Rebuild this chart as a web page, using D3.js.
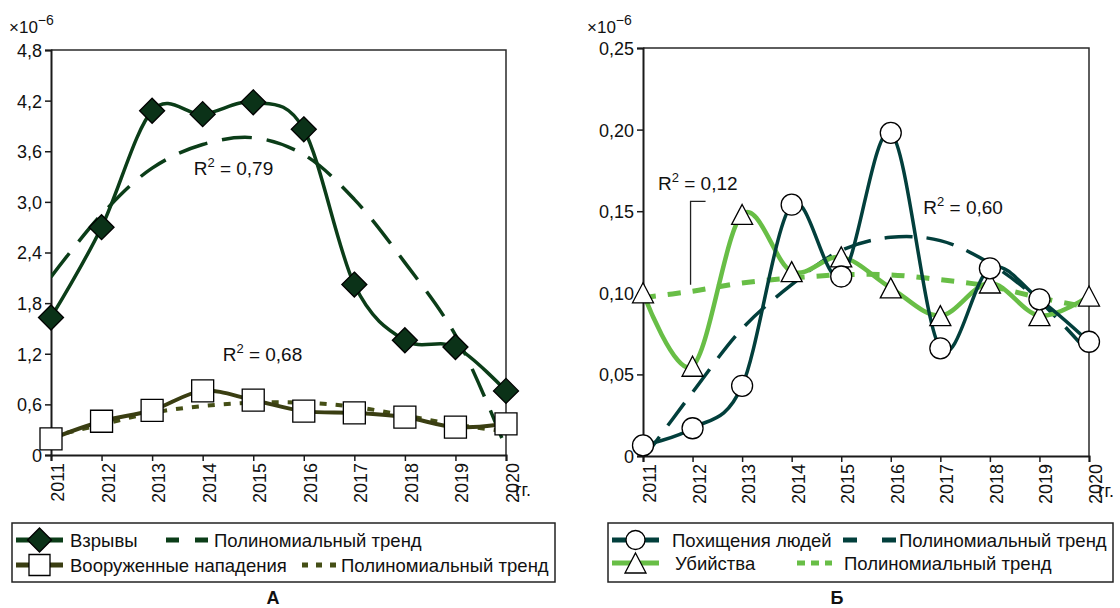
<!DOCTYPE html>
<html>
<head>
<meta charset="utf-8">
<script src="https://cdn.jsdelivr.net/npm/d3@7"></script>
<style>
  body { margin: 0; background: #fff; }
  svg { display: block; }
  text { font-family: "Liberation Sans", Arial, sans-serif; fill: #111; }
</style>
</head>
<body>
<svg id="chart" width="1120" height="608"></svg>
<script>
// ---- data (×10^-6) ----
const years = [2011, 2012, 2013, 2014, 2015, 2016, 2017, 2018, 2019, 2020];

// Panel А
const explosions      = [1.63, 2.70, 4.08, 4.04, 4.18, 3.86, 2.02, 1.36, 1.28, 0.76];
const explosionsTrend = [2.11, 2.85, 3.40, 3.68, 3.76, 3.56, 3.03, 2.28, 1.42, 0.08];
const armedAttacks    = [0.19, 0.40, 0.53, 0.76, 0.65, 0.52, 0.50, 0.45, 0.33, 0.37];
const armedTrend      = [0.22, 0.36, 0.50, 0.58, 0.62, 0.62, 0.57, 0.47, 0.36, 0.28];
const ticksA = [0, 0.6, 1.2, 1.8, 2.4, 3.0, 3.6, 4.2, 4.8];

// Panel Б
const kidnappings  = [0.0065, 0.017, 0.043, 0.154, 0.110, 0.198, 0.066, 0.115, 0.096, 0.070];
const kidnapTrend  = [-0.002, 0.039, 0.078, 0.105, 0.126, 0.134, 0.132, 0.118, 0.095, 0.063];
const murders      = [0.100, 0.055, 0.148, 0.113, 0.122, 0.103, 0.086, 0.106, 0.086, 0.098];
const murderTrend  = [0.097, 0.101, 0.106, 0.109, 0.111, 0.111, 0.108, 0.104, 0.097, 0.091];
const ticksB = [0, 0.05, 0.10, 0.15, 0.20, 0.25];

const trendLabel = "Полиномиальный тренд";

// ---- colours ----
const C = {
  expl: "#0b3d18", explFill: "#0b3218",
  armed: "#3a3e12", armedTrend: "#454f16",
  kid: "#023f3c",
  mur: "#68be46"
};

const svg = d3.select("#chart");
const smooth = d3.curveCardinal.tension(0);

// marker shapes, centred on 0,0
const shapes = {
  diamond: r => `M0,${-r}L${r},0L0,${r}L${-r},0Z`,
  square: r => `M${-r},${-r}H${r}V${r}H${-r}Z`,
  circle: r => d3.symbol(d3.symbolCircle, Math.PI * r * r)(),
  triangle: r => `M0,${-r}L${r * 1.05},${r}L${-r * 1.05},${r}Z`
};

function panel(cfg) {
  const g = svg.append("g");
  const x = d3.scalePoint().domain(years).range([cfg.left, cfg.right]);
  const y = d3.scaleLinear().domain(cfg.domain).range([cfg.bottom, cfg.top]);

  const clipId = "clip" + cfg.id;
  svg.append("clipPath").attr("id", clipId)
    .append("rect").attr("x", cfg.left).attr("y", cfg.top)
    .attr("width", cfg.right - cfg.left).attr("height", cfg.bottom - cfg.top);

  // frame
  g.append("path")
    .attr("d", `M${cfg.left},${cfg.top}H${cfg.right}V${cfg.bottom}`)
    .attr("fill", "none").attr("stroke", "#2a2a2a").attr("stroke-width", 1.5);

  // y axis
  const yAxis = d3.axisLeft(y).tickValues(cfg.ticks).tickSize(6).tickPadding(3)
    .tickFormat(cfg.fmt);
  const ya = g.append("g").attr("transform", `translate(${cfg.left},0)`).call(yAxis);
  ya.select(".domain").attr("stroke", "#1a1a1a").attr("stroke-width", 2);
  ya.selectAll(".tick line").attr("stroke", "#1a1a1a").attr("stroke-width", 1.5);
  ya.selectAll("text").style("font-size", "18px").attr("fill", "#111").attr("dy", "0.36em");

  // x axis
  const xAxis = d3.axisBottom(x).tickSize(6).tickPadding(0);
  const xa = g.append("g").attr("transform", `translate(0,${cfg.bottom})`).call(xAxis);
  xa.select(".domain").attr("stroke", "#1a1a1a").attr("stroke-width", 2);
  xa.selectAll(".tick line").attr("stroke", "#1a1a1a").attr("stroke-width", 1.5);
  xa.selectAll("text")
    .style("font-size", "18px").attr("fill", "#111")
    .attr("text-anchor", "end").attr("dy", null)
    .attr("transform", "translate(6.5,8) rotate(-90)");
  g.append("text").attr("x", cfg.right + 9).attr("y", cfg.bottom + 41)
    .style("font-size", "18px").text("гг.");

  // multiplier
  const m = g.append("text").attr("x", cfg.multX).attr("y", 33).style("font-size", "17px");
  m.append("tspan").text("×10");
  m.append("tspan").attr("dy", -8).style("font-size", "14px").text("−6");

  const plot = g.append("g").attr("clip-path", `url(#${clipId})`);
  const marks = g.append("g");

  cfg.series.forEach(s => {
    const line = d3.line().x((d, i) => x(years[i])).y(d => y(d));
    if (s.trend) {
      plot.append("path").datum(s.trend)
        .attr("d", line.curve(d3.curveCatmullRom.alpha(0.5)))
        .attr("fill", "none").attr("stroke", s.trendColor)
        .attr("stroke-width", s.trendWidth).attr("stroke-dasharray", s.dash);
    }
  });
  cfg.series.forEach(s => {
    const line = d3.line().x((d, i) => x(years[i])).y(d => y(d)).curve(smooth);
    plot.append("path").datum(s.values).attr("d", line)
      .attr("fill", "none").attr("stroke", s.color).attr("stroke-width", s.width)
      .attr("stroke-linejoin", "round");
  });
  cfg.series.forEach(s => {
    marks.selectAll(null).data(s.values).join("path")
      .attr("transform", (d, i) => `translate(${x(years[i])},${y(d)})`)
      .attr("d", shapes[s.shape](s.r))
      .attr("fill", s.fill).attr("stroke", "#000").attr("stroke-width", 1.3);
  });

  return { g, x, y };
}

const fmtA = d => d === 0 ? "0" : d3.format(".1f")(d).replace(".", ",");
const fmtB = d => d === 0 ? "0" : d3.format(".2f")(d).replace(".", ",");

const A = panel({
  id: "A", left: 51, right: 506, top: 50, bottom: 455, domain: [0, 4.8],
  ticks: ticksA, fmt: fmtA, multX: 9,
  series: [
    { values: armedAttacks, color: C.armed, width: 4, shape: "square", r: 11, fill: "#fff",
      trend: armedTrend, trendColor: C.armedTrend, trendWidth: 4, dash: "7 9" },
    { values: explosions, color: C.expl, width: 3.5, shape: "diamond", r: 12.5, fill: C.explFill,
      trend: explosionsTrend, trendColor: C.expl, trendWidth: 3.5, dash: "30 15" }
  ]
});

const B = panel({
  id: "B", left: 643, right: 1089, top: 48, bottom: 456, domain: [0, 0.25],
  ticks: ticksB, fmt: fmtB, multX: 587,
  series: [
    { values: murders, color: C.mur, width: 4.5, shape: "triangle", r: 10, fill: "#fff",
      trend: murderTrend, trendColor: C.mur, trendWidth: 5, dash: "13 12" },
    { values: kidnappings, color: C.kid, width: 3.5, shape: "circle", r: 10.5, fill: "#fff",
      trend: kidnapTrend, trendColor: C.kid, trendWidth: 3.5, dash: "28 14" }
  ]
});

// ---- R² annotations ----
function r2(parent, px, py, val) {
  const t = parent.append("text").attr("x", px).attr("y", py).style("font-size", "19px");
  t.append("tspan").text("R");
  t.append("tspan").attr("dy", -8).style("font-size", "13px").text("2");
  t.append("tspan").attr("dy", 8).text(" = " + val);
}
r2(A.g, A.x(2014) - 9, A.y(3.32), "0,79");
r2(A.g, A.x(2014) + 20, A.y(1.12), "0,68");
r2(B.g, B.x(2011) + 15, B.y(0.163), "0,12");
r2(B.g, B.x(2017) - 17, B.y(0.148), "0,60");
B.g.append("path")
  .attr("d", `M${B.x(2012) - 2},${B.y(0.105)}V${B.y(0.156)}H${B.x(2012) + 13}`)
  .attr("fill", "none").attr("stroke", "#222").attr("stroke-width", 1.3);

// ---- legends ----
function legend(box, rows, caption) {
  const g = svg.append("g");
  g.append("rect").attr("x", box.x).attr("y", box.y).attr("width", box.w).attr("height", box.h)
    .attr("fill", "#fff").attr("stroke", "#222").attr("stroke-width", 1.5);
  rows.forEach(r => {
    // series sample
    g.append("line").attr("x1", box.x + 4).attr("x2", box.x + 51)
      .attr("y1", r.y).attr("y2", r.y)
      .attr("stroke", r.color).attr("stroke-width", r.width);
    g.append("path").attr("transform", `translate(${box.x + 27.5},${r.y})`)
      .attr("d", shapes[r.shape](r.r)).attr("fill", r.fill)
      .attr("stroke", "#000").attr("stroke-width", 1.3);
    g.append("text").attr("x", r.tx).attr("y", r.y + 6.5).style("font-size", "18.5px").text(r.label);
    // trend sample
    g.append("line").attr("x1", r.dx1).attr("x2", r.dx2).attr("y1", r.y).attr("y2", r.y)
      .attr("stroke", r.tcolor).attr("stroke-width", r.twidth).attr("stroke-dasharray", r.dash);
    g.append("text").attr("x", r.ttx).attr("y", r.y + 6.5).style("font-size", "18.5px").text(trendLabel);
  });
  g.append("text").attr("x", caption.x).attr("y", caption.y)
    .attr("text-anchor", "middle").style("font-size", "18px").style("font-weight", "bold")
    .text(caption.t);
}

legend({ x: 12, y: 523, w: 543, h: 59 }, [
  { y: 540, color: C.expl, width: 5, shape: "diamond", r: 12, fill: C.explFill,
    label: "Взрывы", tx: 70, dx1: 166, dx2: 211, tcolor: C.expl, twidth: 5, dash: "13 16", ttx: 214 },
  { y: 565, color: C.armed, width: 5, shape: "square", r: 10.5, fill: "#fff",
    label: "Вооруженные нападения", tx: 70, dx1: 302, dx2: 338, tcolor: C.armedTrend, twidth: 5, dash: "6 8", ttx: 341 }
], { x: 273, y: 604, t: "А" });

legend({ x: 608, y: 523, w: 505, h: 59 }, [
  { y: 540, color: C.kid, width: 5, shape: "circle", r: 9.5, fill: "#fff",
    label: "Похищения людей", tx: 672, dx1: 843, dx2: 896, tcolor: C.kid, twidth: 5, dash: "14 25", ttx: 899 },
  { y: 563, color: C.mur, width: 5, shape: "triangle", r: 10, fill: "#fff",
    label: "Убийства", tx: 675, dx1: 797, dx2: 832, tcolor: C.mur, twidth: 5, dash: "8 6", ttx: 844 }
], { x: 837, y: 604, t: "Б" });
</script>
</body>
</html>
